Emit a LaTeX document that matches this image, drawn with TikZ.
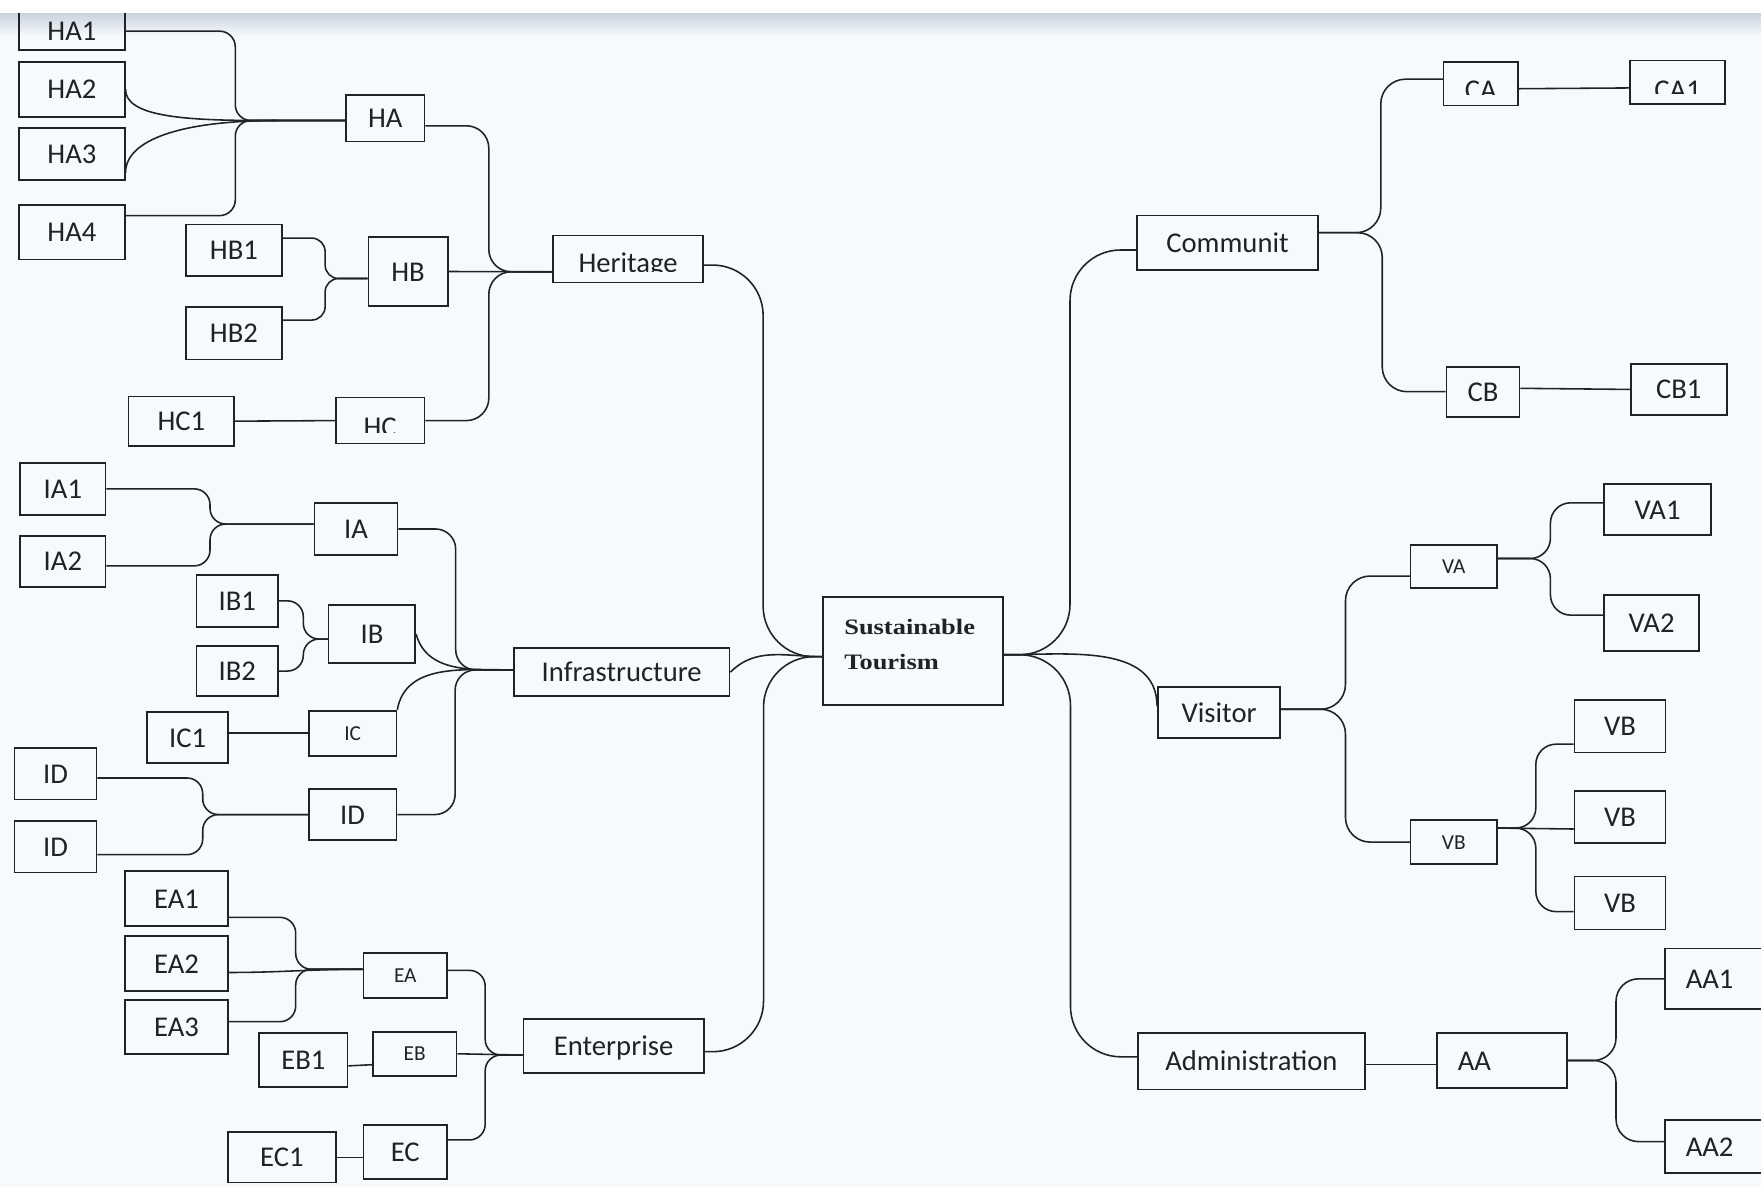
\documentclass[tikz,border=0pt]{standalone}
\usepackage{fontspec}
\setmainfont{Carlito}
\newfontfamily\titlefont[FakeStretch=1.2]{Liberation Serif}
\usetikzlibrary{calc}

\definecolor{ink}{RGB}{32,35,38}
\definecolor{paper}{RGB}{247,250,252}
\definecolor{shadow}{RGB}{200,210,222}

\newcommand{\lbl}{\fontsize{25.5}{30}\selectfont}
\newcommand{\lblsmall}{\fontsize{19}{23}\selectfont}

\begin{document}
\begin{tikzpicture}[x=1pt, y=-1pt,
    %Boxes and connectors
    box/.style={draw=ink, line width=1.5pt, inner sep=0pt, text=ink, font=\lbl,
        text height=17pt, text depth=0pt},
    small/.style={font=\lblsmall, text height=12.5pt},
    leftlabel/.style={align=left, inner xsep=18.5pt, text width=#1},
    core/.style={draw=ink, line width=1.5pt, inner xsep=18.8pt, inner ysep=0pt, text=ink,
        align=left, text width=122.4pt, minimum width=160, minimum height=96,
        font=\titlefont\bfseries\fontsize{19.6}{31.5}\selectfont},
    cut/.style 2 args={path picture={
        \clip ([yshift=9.5pt]path picture bounding box.south west)
            rectangle (path picture bounding box.north east);
        \node[anchor=base, inner sep=0pt, draw=none, text=ink, font=\lbl, path picture={}]
            at ([yshift=#2]path picture bounding box.south) {#1};}},
    link/.style={draw=ink, line width=1.4pt, rounded corners=#1},
    link/.default=14pt,
    elbow/.style={to path={let \p1=(\tikztostart), \p2=(\tikztotarget) in
        -- ({0.5*\x1+0.5*\x2},\y1) -- ({0.5*\x1+0.5*\x2},\y2) -- (\tikztotarget)}},
]
    % Page
    \useasboundingbox (0,0) rectangle (1568,1057);
    \clip (0,0) rectangle (1568,1057);
    \fill[paper] (0,0) rectangle (1568,1057);
    \shade[top color=shadow, bottom color=paper] (0,11) rectangle (1568,32);

    % Centre
    \node[core] (st) at (813,579.7) {Sustainable\\Tourism\rule[-12pt]{0pt}{12pt}};

    % Heritage
    \node[box, minimum width=94, minimum height=33.5] (ha1) at (64,27.75) {HA1};
    \node[box, minimum width=94, minimum height=49]   (ha2) at (64,79.5)  {HA2};
    \node[box, minimum width=94, minimum height=46]   (ha3) at (64,137)   {HA3};
    \node[box, minimum width=94, minimum height=48.5] (ha4) at (64,206.75) {HA4};
    \node[box, minimum width=70, minimum height=41.4] (ha)  at (343,105.3) {HA};
    \node[box, minimum width=85.4, minimum height=46]   (hb1) at (208.3,223)   {HB1};
    \node[box, minimum width=85.4, minimum height=46.4] (hb2) at (208.3,296.8) {HB2};
    \node[box, minimum width=70.6, minimum height=61.5] (hb)  at (363.3,241.75) {HB};
    \node[box, minimum width=94, minimum height=44] (hc1) at (161.5,375) {HC1};
    \node[box, minimum width=79, minimum height=41, cut={HC}{6.5pt}] (hc) at (338.5,374.5) {};
    \node[box, minimum width=133.5, minimum height=42, cut={Heritage}{9pt}] (heritage) at (559.25,230.65) {};
    \coordinate (hajoin) at ([xshift=-60pt,yshift=-2pt]ha.west);

    \draw[link] (ha1.east) to[elbow] ([yshift=-2pt]ha.west);
    \draw[link] (ha2.east) .. controls +(0,24) and +(-85,0) .. (hajoin) -- ([yshift=-2pt]ha.west);
    \draw[link] ([yshift=-17pt]ha3.east) .. controls +(0,-30) and +(-85,0) .. (hajoin);
    \draw[link] ([yshift=14.75pt]ha4.east) to[elbow] ([yshift=-2pt]ha.west);
    \draw[link=12pt] ([yshift=11pt]hb1.east) to[elbow] ([yshift=-6.25pt]hb.west);
    \draw[link=12pt] ([yshift=11.8pt]hb2.east) to[elbow] ([yshift=-6.25pt]hb.west);
    \draw[link] (hc1.east) -- (hc.west);
    \draw[link=20pt] ([yshift=-6.7pt]ha.east) to[elbow] ([yshift=-11.35pt]heritage.west);
    \draw[link] (hb.east) -- ([yshift=-11.35pt]heritage.west);
    \draw[link=20pt] (hc.east) to[elbow] ([yshift=-11.35pt]heritage.west);

    % Infrastructure
    \node[box, minimum width=76, minimum height=46.6] (ia1) at (56,435.3)  {IA1};
    \node[box, minimum width=76, minimum height=45.7] (ia2) at (56,499.85) {IA2};
    \node[box, minimum width=74, minimum height=46]   (ia)  at (317,471)   {IA};
    \node[box, minimum width=72.5, minimum height=46] (ib1) at (211.25,535)   {IB1};
    \node[box, minimum width=72.5, minimum height=45] (ib2) at (211.25,597.5) {IB2};
    \node[box, minimum width=77.2, minimum height=51.8] (ib) at (331.2,564.6) {IB};
    \node[box, minimum width=72, minimum height=45.5] (ic1) at (167,656.75) {IC1};
    \node[box, small, minimum width=78, minimum height=40.2] (ic) at (314,652.9) {IC};
    \node[box, minimum width=73, minimum height=46] (ida) at (49.5,689) {ID};
    \node[box, minimum width=73, minimum height=46] (idb) at (49.5,754) {ID};
    \node[box, minimum width=78, minimum height=45.4] (id) at (314,725.3) {ID};
    \node[box, minimum width=192.1, minimum height=43] (infra) at (553.55,598.5) {Infrastructure};

    \draw[link] (ia1.east) to[elbow] ([yshift=4.4pt]ia.west);
    \draw[link] ([yshift=-4pt]ia2.east) to[elbow] ([yshift=4.4pt]ia.west);
    \draw[link] (ib1.east) to[elbow] ([yshift=-4.4pt]ib.west);
    \draw[link] (ib2.east) to[elbow] ([yshift=-4.4pt]ib.west);
    \draw[link] (ic1.east |- ic.west) -- (ic.west);
    \draw[link] ([yshift=-3.7pt]ida.east) to[elbow] (id.west);
    \draw[link] ([yshift=-7pt]idb.east) to[elbow] (id.west);
    \draw[link=18pt] (ia.east) to[elbow] ([yshift=2pt]infra.west);
    \draw[link] (ib.east) to[out=-75,in=180] ([yshift=2pt]infra.west);
    \draw[link] (ic.north east) to[out=80,in=180] ([yshift=2pt]infra.west);
    \draw[link=18pt] (id.east) to[elbow] ([yshift=2pt]infra.west);

    % Enterprise
    \node[box, minimum width=91.4, minimum height=48.9] (ea1) at (157.2,800)    {EA1};
    \node[box, minimum width=91.4, minimum height=49]   (ea2) at (157.2,857.9)  {EA2};
    \node[box, minimum width=91.4, minimum height=48.1] (ea3) at (157.2,914.45) {EA3};
    \node[box, small, minimum width=74.3, minimum height=40] (ea) at (360.85,868.6) {EA};
    \node[box, minimum width=78.7, minimum height=48.1] (eb1) at (270.15,943.55) {EB1};
    \node[box, small, minimum width=74.6, minimum height=39.4] (eb) at (369.3,938.3) {EB};
    \node[box, minimum width=96.1, minimum height=45] (ec1) at (250.95,1030.5) {EC1};
    \node[box, minimum width=74.3, minimum height=48.1] (ec) at (360.85,1025.75) {EC};
    \node[box, minimum width=160.7, minimum height=48] (enter) at (546.35,931.4) {Enterprise};

    \draw[link] ([yshift=-16.8pt]ea1.east) to[elbow] ([yshift=5.6pt]ea.west);
    \draw[link] ([yshift=-8pt]ea2.east) to[out=0,in=180] ([yshift=5.6pt]ea.west);
    \draw[link] ([yshift=4.75pt]ea3.east) to[elbow] ([yshift=5.6pt]ea.west);
    \draw[link] ([yshift=-5.5pt]eb1.east) -- ([yshift=-9.7pt]eb.west);
    \draw[link] (ec1.east) -- (ec1.east -| ec.west);
    \draw[link] ([yshift=4.6pt]ea.east) to[elbow] ([yshift=-8pt]enter.west);
    \draw[link] (eb.east) -- ([yshift=-8pt]enter.west);
    \draw[link] ([yshift=10.75pt]ec.east) to[elbow] ([yshift=-8pt]enter.west);

    % Branches into the centre
    \draw[link=45pt] ([yshift=-5.35pt]heritage.east) to[elbow] ([yshift=-5pt]st.west);
    \draw[link] (infra.east) to[out=45,in=180] ([yshift=-5pt]st.west);
    \draw[link=45pt] ([yshift=-5pt]enter.east) to[elbow] ([yshift=-5pt]st.west);

    % Community
    \node[box, minimum width=161, minimum height=48.4] (commun) at (1093,216.2) {Communit};
    \node[box, minimum width=66.2, minimum height=39, cut={CA}{5pt}] (ca) at (1318.5,74.5) {};
    \node[box, minimum width=84.5, minimum height=38.6, cut={CA1}{4pt}] (ca1) at (1493.75,73.3) {};
    \node[box, minimum width=65, minimum height=44.5] (cb) at (1320.5,348.75) {CB};
    \node[box, minimum width=85.6, minimum height=45.5] (cb1) at (1494.8,346.75) {CB1};

    \draw[link=22pt] ([yshift=9pt]commun.east) to[elbow] ([yshift=4pt]ca.west);
    \draw[link=22pt] ([yshift=9pt]commun.east) to[elbow] (cb.west);
    \draw[link] ([yshift=-4.5pt]ca.east) -- ([yshift=-5pt]ca1.west);
    \draw[link] ([yshift=3pt]cb.east) -- (cb1.west);

    % Visitor
    \node[box, minimum width=109, minimum height=45] (visitor) at (1085.5,634.5) {Visitor};
    \node[box, small, minimum width=77, minimum height=38] (va) at (1294.5,504.3) {VA};
    \node[box, minimum width=95.7, minimum height=45.4] (va1) at (1475.85,453.7) {VA1};
    \node[box, minimum width=85, minimum height=49.8] (va2) at (1470.5,554.7) {VA2};
    \node[box, small, minimum width=77, minimum height=39.6] (vb) at (1294.5,749.8) {VB};
    \node[box, minimum width=81, minimum height=46.6] (vb1) at (1442.5,646.6) {VB};
    \node[box, minimum width=81, minimum height=46.3] (vb2) at (1442.5,727.15) {VB};
    \node[box, minimum width=81, minimum height=47] (vb3) at (1442.5,804) {VB};

    \draw[link=22pt] ([yshift=3pt]visitor.east) to[elbow] ([yshift=-8.6pt]va.west);
    \draw[link=22pt] ([yshift=3pt]visitor.east) to[elbow] (vb.west);
    \draw[link=18pt] ([yshift=7pt]va.east) to[elbow] ([yshift=6pt]va1.west);
    \draw[link=18pt] ([yshift=7pt]va.east) to[elbow] ([yshift=7pt]va2.west);
    \draw[link=18pt] ([yshift=12.5pt]vb.east) to[elbow] ([yshift=-16pt]vb1.west);
    \draw[link] ([yshift=12.5pt]vb.east) -- ([yshift=-11pt]vb2.west);
    \draw[link=18pt] ([yshift=12.5pt]vb.east) to[elbow] ([yshift=-7.7pt]vb3.west);

    % Administration
    \node[box, minimum width=201.9, minimum height=50] (admin) at (1114.25,945) {Administration};
    \node[box, leftlabel=78.8pt, minimum height=48.5] (aa) at (1337.4,944.25) {AA};
    \node[box, leftlabel=55.5pt, minimum height=54.3] (aa1) at (1528.75,871.55) {AA1};
    \node[box, leftlabel=55.5pt, minimum height=47.4] (aa2) at (1528.75,1021) {AA2};

    \draw[link] ([yshift=-3pt]admin.east) -- ([yshift=-3.75pt]aa.west);
    \draw[link=20pt] (aa.east) to[elbow] (aa1.west);
    \draw[link=20pt] (aa.east) to[elbow] ([yshift=4.5pt]aa2.west);

    % Branches out of the centre
    \draw[link=45pt] ([yshift=-3.3pt]st.east) to[elbow] ([yshift=-6.4pt]commun.west);
    \draw[link] ([yshift=-3.3pt]st.east) to[out=0,in=90] ([yshift=5.5pt]visitor.west);
    \draw[link=45pt] ([yshift=-3.3pt]st.east) to[elbow] ([yshift=4pt]admin.west);

    % Top edge of the page
    \fill[white] (0,0) rectangle (1568,11.5);
\end{tikzpicture}
\end{document}
